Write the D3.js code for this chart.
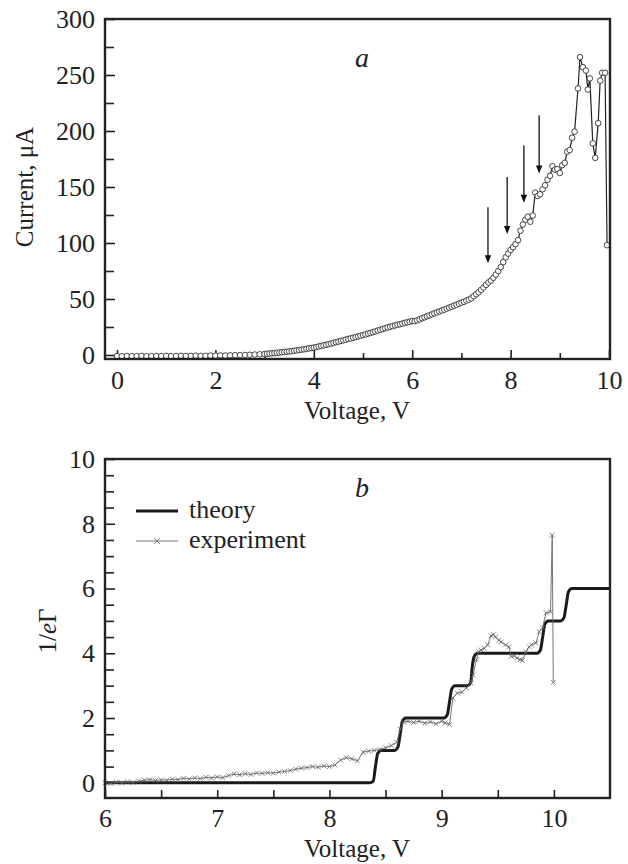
<!DOCTYPE html>
<html>
<head>
<meta charset="utf-8">
<script src="https://cdn.jsdelivr.net/npm/d3@7"></script>
<style>
body { margin: 0; background: #fff; }
text { font-family: "Liberation Serif", "Times New Roman", serif; fill: #222; }
</style>
</head>
<body>
<script>
// ---- panel a : current vs voltage ----
var voltA = [
  0.0,0.1,0.2,0.3,0.4,0.5,0.6,0.7,0.8,0.9,
  1.0,1.1,1.2,1.3,1.4,1.5,1.6,1.7,1.8,1.9,
  2.0,2.1,2.2,2.3,2.4,2.5,2.6,2.7,2.8,2.9,
  3.00,3.05,3.10,3.15,3.20,3.25,3.30,3.35,3.40,3.45,
  3.50,3.55,3.60,3.65,3.70,3.75,3.80,3.85,3.90,3.95,
  4.00,4.05,4.10,4.15,4.20,4.25,4.30,4.35,4.40,4.45,
  4.50,4.55,4.60,4.65,4.70,4.75,4.80,4.85,4.90,4.95,
  5.00,5.05,5.10,5.15,5.20,5.25,5.30,5.35,5.40,5.45,
  5.50,5.55,5.60,5.65,5.70,5.75,5.80,5.85,5.90,5.95,
  6.00,6.05,6.10,6.15,6.20,6.25,6.30,6.35,6.40,6.45,
  6.50,6.55,6.60,6.65,6.70,6.75,6.80,6.85,6.90,6.95,
  7.00,7.05,7.10,7.15,7.20,7.25,7.30,7.35,7.40,7.45,
  7.50,7.55,7.60,7.65,7.70,7.75,7.80,7.85,7.90,7.95,
  8.00,8.05,8.10,8.15,8.20,8.25,8.30,8.35,8.40,8.45,
  8.50,8.55,8.60,8.65,8.70,8.75,8.80,8.85,8.90,8.95,
  9.00,9.05,9.10,9.15,9.20,9.25,9.30,
  9.37,9.41,9.47,9.53,9.57,9.61,9.67,9.72,9.78,9.82,9.86,9.92,9.96
];
var currA = [
  -1.0,-1.2,-0.9,-1.1,-1.0,-0.8,-1.1,-1.0,-0.9,-1.0,
  -0.8,-1.0,-0.9,-0.7,-0.9,-0.8,-0.6,-0.8,-0.7,-0.5,
  -0.6,-0.4,-0.5,-0.3,-0.2,-0.1,0.0,0.2,0.4,0.6,
  0.9,1.1,1.3,1.5,1.7,1.9,2.2,2.4,2.7,2.9,
  3.2,3.5,3.8,4.1,4.4,4.8,5.1,5.5,5.9,6.2,
  6.6,7.1,7.6,8.1,8.6,9.1,9.7,10.2,10.8,11.4,
  12.0,12.6,13.1,13.7,14.3,14.8,15.4,16.0,16.6,17.2,
  17.8,18.4,19.1,19.7,20.4,21.1,21.8,22.5,23.2,23.9,
  24.6,25.2,25.8,26.4,27.0,27.5,28.1,28.7,29.2,29.7,
  30.4,30.2,30.9,31.8,32.8,33.7,34.6,35.4,36.3,37.2,
  38.0,38.8,39.7,40.5,41.4,42.3,43.1,44.0,44.9,45.8,
  46.7,47.5,48.6,49.4,50.6,52.5,54.2,56.0,58.1,60.3,
  62.6,64.8,66.5,68.9,71.8,75.0,78.5,83.0,87.2,90.5,
  93.8,96.3,99.0,102.5,111.0,116.5,120.8,123.5,119.0,124.5,
  145.0,142.0,143.5,148.0,151.5,156.5,160.0,168.5,165.5,166.0,
  162.5,169.5,171.5,181.5,183.0,194.0,199.5,
  238,266,257,254,237,247,189,176,207,245,252,252,98
];
// arrows pointing at the steps
var arrowV = [7.54, 7.93, 8.27, 8.58];
var arrowFrom = [132, 159, 187, 214];
var arrowTo = [82, 108, 136, 162];

var xTicksA = [0, 2, 4, 6, 8, 10];
var yTicksA = [0, 50, 100, 150, 200, 250, 300];

// ---- panel b : 1/eGamma vs voltage ----
var voltTheory = [6.0,8.36,8.39,8.41,8.43,8.46,8.58,8.61,8.63,8.65,8.68,9.02,9.05,9.07,9.09,9.12,
  9.23,9.26,9.27,9.29,9.32,9.85,9.88,9.90,9.92,9.95,10.06,10.09,10.11,10.13,10.16,10.5];
var gammaTheory = [0,0,0.05,0.5,0.9,1,1,1.1,1.5,1.9,2,2,2.1,2.5,2.9,3,
  3,3.1,3.5,3.9,4,4,4.1,4.5,4.9,5,5,5.1,5.5,5.9,6,6];

var voltExp = [
  6.00,6.05,6.10,6.15,6.20,6.25,6.30,6.35,6.40,6.45,
  6.50,6.55,6.60,6.65,6.70,6.75,6.80,6.85,6.90,6.95,
  7.00,7.05,7.10,7.15,7.20,7.25,7.30,7.35,7.40,7.45,
  7.50,7.55,7.60,7.65,7.70,7.75,7.80,7.85,7.90,7.95,
  8.00,8.05,8.10,8.15,8.20,8.25,8.30,8.35,8.40,8.45,
  8.50,8.55,8.60,8.63,8.66,8.70,8.75,8.80,8.85,8.90,
  8.95,9.00,9.03,9.07,9.10,9.14,9.18,9.22,9.26,9.28,
  9.31,9.33,9.35,9.38,9.41,9.44,9.46,9.48,9.51,9.53,
  9.57,9.60,9.62,9.65,9.67,9.70,9.72,9.75,9.78,9.80,
  9.84,9.87,9.90,9.93,9.97,9.985,9.995
];
var gammaExp = [
  0.00,-0.02,0.02,0.00,0.03,0.01,0.05,0.08,0.10,0.07,
  0.09,0.08,0.11,0.10,0.14,0.12,0.15,0.13,0.17,0.15,
  0.18,0.16,0.22,0.27,0.25,0.28,0.26,0.30,0.29,0.31,
  0.30,0.33,0.35,0.38,0.42,0.45,0.47,0.50,0.48,0.52,
  0.50,0.55,0.70,0.78,0.74,0.68,0.95,0.98,1.00,1.03,
  1.08,1.15,1.25,1.65,1.88,1.90,1.86,1.90,1.84,1.88,
  1.82,1.90,1.85,1.80,2.62,2.77,2.80,2.93,3.08,3.33,
  3.80,4.05,4.10,4.15,4.26,4.54,4.58,4.50,4.40,4.35,
  4.26,4.20,3.90,3.92,3.85,3.80,3.78,4.04,4.20,4.26,
  4.32,4.66,4.80,5.25,5.28,7.65,3.10
];

var xTicksB = [6, 7, 8, 9, 10];
var yTicksB = [0, 2, 4, 6, 8, 10];

var svg = d3.select("body").append("svg")
    .attr("width", 628)
    .attr("height", 864);

function styleAxis(g) {
    g.select(".domain").remove();
    g.selectAll(".tick line").attr("stroke", "#222").attr("stroke-width", 1.6);
    g.selectAll(".tick text").attr("font-size", 26).attr("fill", "#222");
}

// ================= panel a =================
var xA = d3.scaleLinear().domain([-0.244, 10.02]).range([105, 610]);
var yA = d3.scaleLinear().domain([-3.57, 300]).range([359, 19]);

svg.append("g").attr("transform", "translate(0,359)")
    .call(d3.axisBottom(xA).tickValues([1, 3, 5, 7, 9]).tickSize(-6).tickFormat(""))
    .call(styleAxis);
svg.append("g").attr("transform", "translate(0,359)")
    .call(d3.axisBottom(xA).tickValues(xTicksA).tickSize(-9).tickPadding(12).tickFormat(d3.format("d")))
    .call(styleAxis);
svg.append("g").attr("transform", "translate(105,0)")
    .call(d3.axisLeft(yA).tickValues([25, 75, 125, 175, 225, 275]).tickSize(-9).tickFormat(""))
    .call(styleAxis);
svg.append("g").attr("transform", "translate(105,0)")
    .call(d3.axisLeft(yA).tickValues(yTicksA).tickSize(-10).tickPadding(10).tickFormat(d3.format("d")))
    .call(styleAxis);

var ptsA = voltA.map(function (v, i) { return [v, currA[i]]; });

var lineA = d3.line()
    .x(function (d) { return xA(d[0]); })
    .y(function (d) { return yA(d[1]); });

svg.append("path")
    .datum(ptsA)
    .attr("d", lineA)
    .attr("fill", "none")
    .attr("stroke", "#222")
    .attr("stroke-width", 1.2);

svg.append("g").selectAll("circle")
    .data(ptsA)
    .enter().append("circle")
    .attr("cx", function (d) { return xA(d[0]); })
    .attr("cy", function (d) { return yA(d[1]); })
    .attr("r", 2.8)
    .attr("fill", "#fff")
    .attr("stroke", "#333")
    .attr("stroke-width", 0.9);

// arrows
arrowV.forEach(function (v, i) {
    var x = xA(v), y0 = yA(arrowFrom[i]), y1 = yA(arrowTo[i]);
    svg.append("line")
        .attr("x1", x).attr("x2", x)
        .attr("y1", y0).attr("y2", y1 - 6)
        .attr("stroke", "#111").attr("stroke-width", 1.3);
    svg.append("path")
        .attr("d", "M" + (x - 3.2) + "," + (y1 - 8) + "L" + (x + 3.2) + "," + (y1 - 8) + "L" + x + "," + y1 + "Z")
        .attr("fill", "#111");
});

svg.append("rect")
    .attr("x", 105).attr("y", 19)
    .attr("width", 505).attr("height", 340)
    .attr("fill", "none").attr("stroke", "#222").attr("stroke-width", 2.4);

svg.append("text")
    .attr("x", 362).attr("y", 67)
    .attr("text-anchor", "middle")
    .attr("font-size", 28).attr("font-style", "italic")
    .text("a");

svg.append("text")
    .attr("x", 357).attr("y", 419)
    .attr("text-anchor", "middle")
    .attr("font-size", 25)
    .text("Voltage, V");

svg.append("text")
    .attr("transform", "translate(33,187) rotate(-90)")
    .attr("text-anchor", "middle")
    .attr("font-size", 25)
    .text("Current, \u03bcA");

// ================= panel b =================
var xB = d3.scaleLinear().domain([6, 10.5]).range([105, 610]);
var yB = d3.scaleLinear().domain([-0.47, 10]).range([798, 459]);

svg.append("g").attr("transform", "translate(0,798)")
    .call(d3.axisBottom(xB).tickValues([6.5, 7.5, 8.5, 9.5]).tickSize(-8).tickFormat(""))
    .call(styleAxis);
svg.append("g").attr("transform", "translate(0,798)")
    .call(d3.axisBottom(xB).tickValues(xTicksB).tickSize(-8).tickPadding(11).tickFormat(d3.format("d")))
    .call(styleAxis);
svg.append("g").attr("transform", "translate(105,0)")
    .call(d3.axisLeft(yB).tickValues([0.5, 1, 1.5, 2.5, 3, 3.5, 4.5, 5, 5.5, 6.5, 7, 7.5, 8.5, 9, 9.5]).tickSize(-9).tickFormat(""))
    .call(styleAxis);
svg.append("g").attr("transform", "translate(105,0)")
    .call(d3.axisLeft(yB).tickValues(yTicksB).tickSize(-10).tickPadding(10).tickFormat(d3.format("d")))
    .call(styleAxis);

var expPts = voltExp.map(function (v, i) { return [v, gammaExp[i]]; });
var thPts = voltTheory.map(function (v, i) { return [v, gammaTheory[i]]; });

var lineB = d3.line()
    .x(function (d) { return xB(d[0]); })
    .y(function (d) { return yB(d[1]); });

svg.append("path")
    .datum(thPts)
    .attr("d", lineB.curve(d3.curveMonotoneX))
    .attr("fill", "none")
    .attr("stroke", "#1a1a1a")
    .attr("stroke-width", 3);

var lineExp = d3.line()
    .x(function (d) { return xB(d[0]); })
    .y(function (d) { return yB(d[1]); });

svg.append("path")
    .datum(expPts)
    .attr("d", lineExp)
    .attr("fill", "none")
    .attr("stroke", "#666")
    .attr("stroke-width", 0.9);

svg.append("g").selectAll("path")
    .data(expPts)
    .enter().append("path")
    .attr("transform", function (d) { return "translate(" + xB(d[0]) + "," + yB(d[1]) + ")"; })
    .attr("d", "M-2.4,-2.4L2.4,2.4M-2.4,2.4L2.4,-2.4")
    .attr("stroke", "#666")
    .attr("stroke-width", 0.8)
    .attr("fill", "none");

svg.append("rect")
    .attr("x", 105).attr("y", 459)
    .attr("width", 505).attr("height", 339)
    .attr("fill", "none").attr("stroke", "#222").attr("stroke-width", 2.4);

// legend
svg.append("line").attr("x1", 136).attr("x2", 178).attr("y1", 511).attr("y2", 511)
    .attr("stroke", "#1a1a1a").attr("stroke-width", 3);
svg.append("text").attr("x", 189).attr("y", 518).attr("font-size", 26).text("theory");
svg.append("line").attr("x1", 136).attr("x2", 178).attr("y1", 541).attr("y2", 541)
    .attr("stroke", "#666").attr("stroke-width", 0.9);
svg.append("path")
    .attr("transform", "translate(157,541)")
    .attr("d", "M-3,-3L3,3M-3,3L3,-3")
    .attr("stroke", "#666").attr("stroke-width", 0.8);
svg.append("text").attr("x", 189).attr("y", 548).attr("font-size", 26).text("experiment");

svg.append("text")
    .attr("x", 362).attr("y", 497)
    .attr("text-anchor", "middle")
    .attr("font-size", 28).attr("font-style", "italic")
    .text("b");

svg.append("text")
    .attr("x", 357).attr("y", 857)
    .attr("text-anchor", "middle")
    .attr("font-size", 25)
    .text("Voltage, V");

var yTitleB = svg.append("text")
    .attr("transform", "translate(56,631) rotate(-90)")
    .attr("text-anchor", "middle")
    .attr("font-size", 25);
yTitleB.append("tspan").text("1/");
yTitleB.append("tspan").attr("font-style", "italic").text("e");
yTitleB.append("tspan").text("\u0393");
</script>
</body>
</html>
